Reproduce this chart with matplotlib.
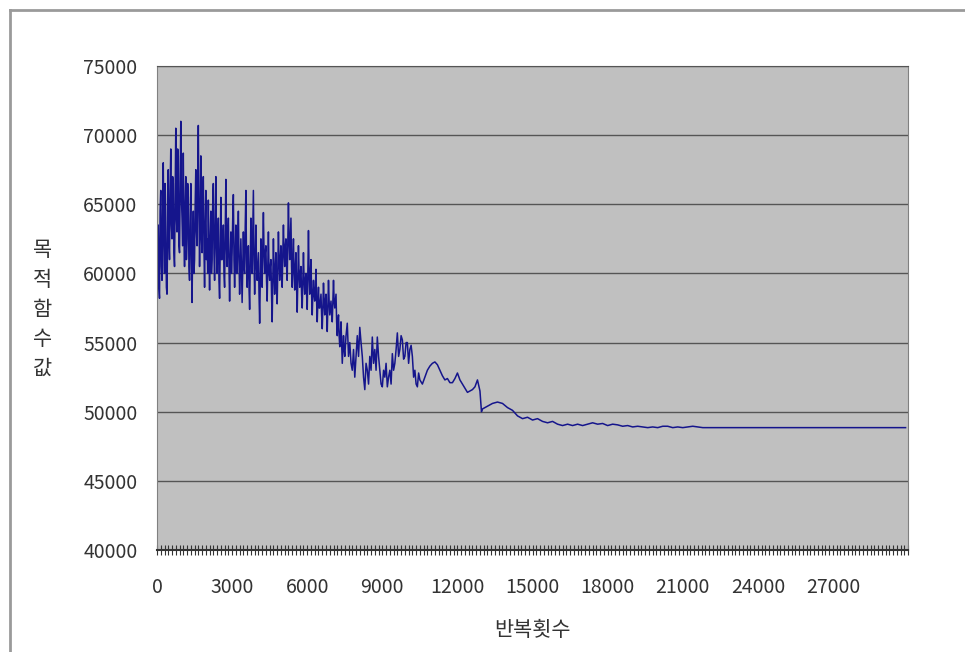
import matplotlib
matplotlib.use("Agg")
import matplotlib.pyplot as plt
from matplotlib.lines import Line2D
from matplotlib.ticker import MultipleLocator
import numpy as np

plt.rcParams['font.family'] = ['Noto Sans CJK KR', 'DejaVu Sans']

# objective value per iteration (dense zig-zag early on, settling later)
early_iters = list(range(0, 7500, 25))
early_values = [
    57500, 61000, 63500, 59000, 58200, 64500, 66000, 60500, 59500, 65000, 68000, 62000, 60000, 66500, 64000, 59000, 58500, 63000, 67500, 62500,
    61000, 66000, 69000, 63500, 62500, 67000, 66500, 61500, 60500, 65500, 70500, 64000, 63000, 69000, 68500, 62000, 61500, 66500, 71000, 65500,
    64000, 62000, 68700, 63000, 60500, 65000, 67000, 61000, 62500, 66500, 65500, 60500, 59500, 63500, 66500, 61000, 57900, 62000, 64500, 60000,
    61000, 65000, 67500, 63000, 62000, 66500, 70700, 64500, 60500, 64000, 68500, 62500, 61500, 65500, 67000, 62000, 59000, 63500, 66000, 61000,
    62500, 60000, 65300, 61500, 58800, 62500, 64500, 60000, 61000, 65000, 66500, 61500, 59500, 63500, 67000, 62000, 60000, 62500, 64000, 59500,
    58200, 62000, 65500, 61000, 61000, 62500, 63500, 60000, 59000, 63000, 66800, 62000, 60500, 62500, 64000, 60500, 58000, 61000, 63000, 60000,
    61500, 64000, 65700, 61000, 59000, 61500, 63500, 60000, 60000, 62500, 64500, 61000, 58500, 60500, 62500, 60000, 57900, 60500, 63000, 60500,
    60000, 63500, 66000, 61000, 59000, 61000, 62000, 59000, 57400, 60500, 64000, 61500, 60000, 63000, 66000, 61000, 58500, 61000, 63500, 60500,
    59500, 60500, 61500, 58500, 56400, 59500, 62500, 60000, 59000, 62000, 64400, 61500, 60000, 61500, 62000, 59500, 58000, 60500, 63000, 60000,
    59500, 60500, 61000, 58500, 56500, 59500, 62500, 60000, 58500, 60500, 61500, 59000, 57800, 60500, 63000, 61000, 59500, 61000, 62000, 60000,
    59000, 61500, 63500, 61500, 60500, 62000, 62500, 60500, 59500, 62500, 65100, 62500, 61000, 62500, 64000, 60500, 59000, 61000, 62500, 60000,
    58800, 60500, 61500, 59000, 57200, 59500, 62000, 60000, 59000, 60000, 60500, 58500, 57500, 59500, 61500, 59500, 58500, 59500, 60000, 58500,
    57400, 60000, 63100, 60000, 58500, 60000, 61000, 58500, 57000, 58500, 59500, 58500, 58000, 59000, 60300, 58000, 56500, 58000, 59000, 57500,
    57500, 58000, 58500, 57000, 56000, 57500, 59300, 58000, 57000, 58000, 58500, 57000, 55800, 57500, 59500, 58000, 57000, 57500, 58000, 57000,
    56500, 58000, 59500, 58000, 57500, 58000, 58500, 56500, 55500, 56500, 57000, 55500, 54700, 55500, 56500, 55000, 53500, 54500, 55500, 54500,
]

mid_iters = list(range(7500, 10500, 50)) + list(range(10500, 12960, 100)) + [12960]
mid_values = [
    54000, 55500, 56400, 54000, 55000, 53500, 53000, 54500, 52500, 54000,
    55500, 54000, 56100, 55000, 54000, 52500, 51600, 53500, 53000, 52000,
    54000, 53000, 55400, 53500, 54500, 53000, 55400, 54000, 53000, 52000,
    51800, 53000, 52500, 53500, 51800, 52500, 53000, 52000, 54200, 53000,
    53500, 54500, 55700, 54000, 54500, 55500, 55200, 53800, 54000, 55000,
    55000, 53500, 54500, 54800, 54000, 52500, 53000, 52000, 51800, 52800,
    52300, 52000, 52500, 53000, 53300, 53500, 53600, 53400, 53000, 52600,
    52300, 52400, 52100, 52100, 52400, 52800, 52300, 52000, 51700, 51400,
    51500, 51600, 51800, 52300, 51500, 50000,
]

late_iters = list(range(13000, 22000, 200)) + [29900]
late_values = [
    50200, 50400, 50600, 50700, 50600, 50300, 50100, 49700, 49500, 49600,
    49400, 49500, 49300, 49200, 49300, 49100, 49000, 49100, 49000, 49100,
    49000, 49100, 49200, 49100, 49150, 49000, 49100, 49050, 48950, 49000,
    48900, 48950, 48900, 48850, 48900, 48850, 48950, 48950, 48850, 48900,
    48850, 48900, 48950, 48900, 48850, 48850,
]

iterations = np.array(early_iters + mid_iters + late_iters)
objective = np.array(early_values + mid_values + late_values)

y_ticks = [40000, 45000, 50000, 55000, 60000, 65000, 70000, 75000]
x_ticks = list(range(0, 30000, 3000))

fig = plt.figure(figsize=(9.65, 6.52), dpi=100)
ax = fig.add_axes([0.1627, 0.1564, 0.7783, 0.7424])
ax.set_facecolor('#c0c0c0')

ax.plot(iterations, objective, color='#15158c', linewidth=1.1)

ax.set_xlim(0, 30000)
ax.set_ylim(40000, 75000)
ax.set_yticks(y_ticks)
ax.set_xticks(x_ticks)
ax.xaxis.set_minor_locator(MultipleLocator(150))

ax.yaxis.grid(True, color='#555555', linewidth=1.0)
ax.set_axisbelow(True)

for side in ['left', 'right', 'top']:
    ax.spines[side].set_color('#808080')
    ax.spines[side].set_linewidth(0.8)
ax.spines['top'].set_color('#555555')
ax.spines['bottom'].set_color('#333333')
ax.spines['bottom'].set_linewidth(1.5)

ax.tick_params(axis='y', length=0, pad=14, labelsize=14, labelcolor='#333333')
ax.tick_params(axis='x', which='both', direction='inout', length=7, width=0.8,
               color='#333333', pad=16, labelsize=14, labelcolor='#333333')

ax.set_xlabel('반복횟수', fontsize=15, color='#333333', labelpad=15)
fig.text(0.044, 0.525, '목\n적\n함\n수\n값', fontsize=15, color='#333333',
         ha='center', va='center', linespacing=1.45)

# outer chart frame
fig.add_artist(Line2D([0.0104, 0.0104], [0.0, 0.9847], color='#9a9a9a', linewidth=2))
fig.add_artist(Line2D([0.0104, 1.0], [0.9847, 0.9847], color='#9a9a9a', linewidth=2))

fig.savefig('out.png', dpi=100)
